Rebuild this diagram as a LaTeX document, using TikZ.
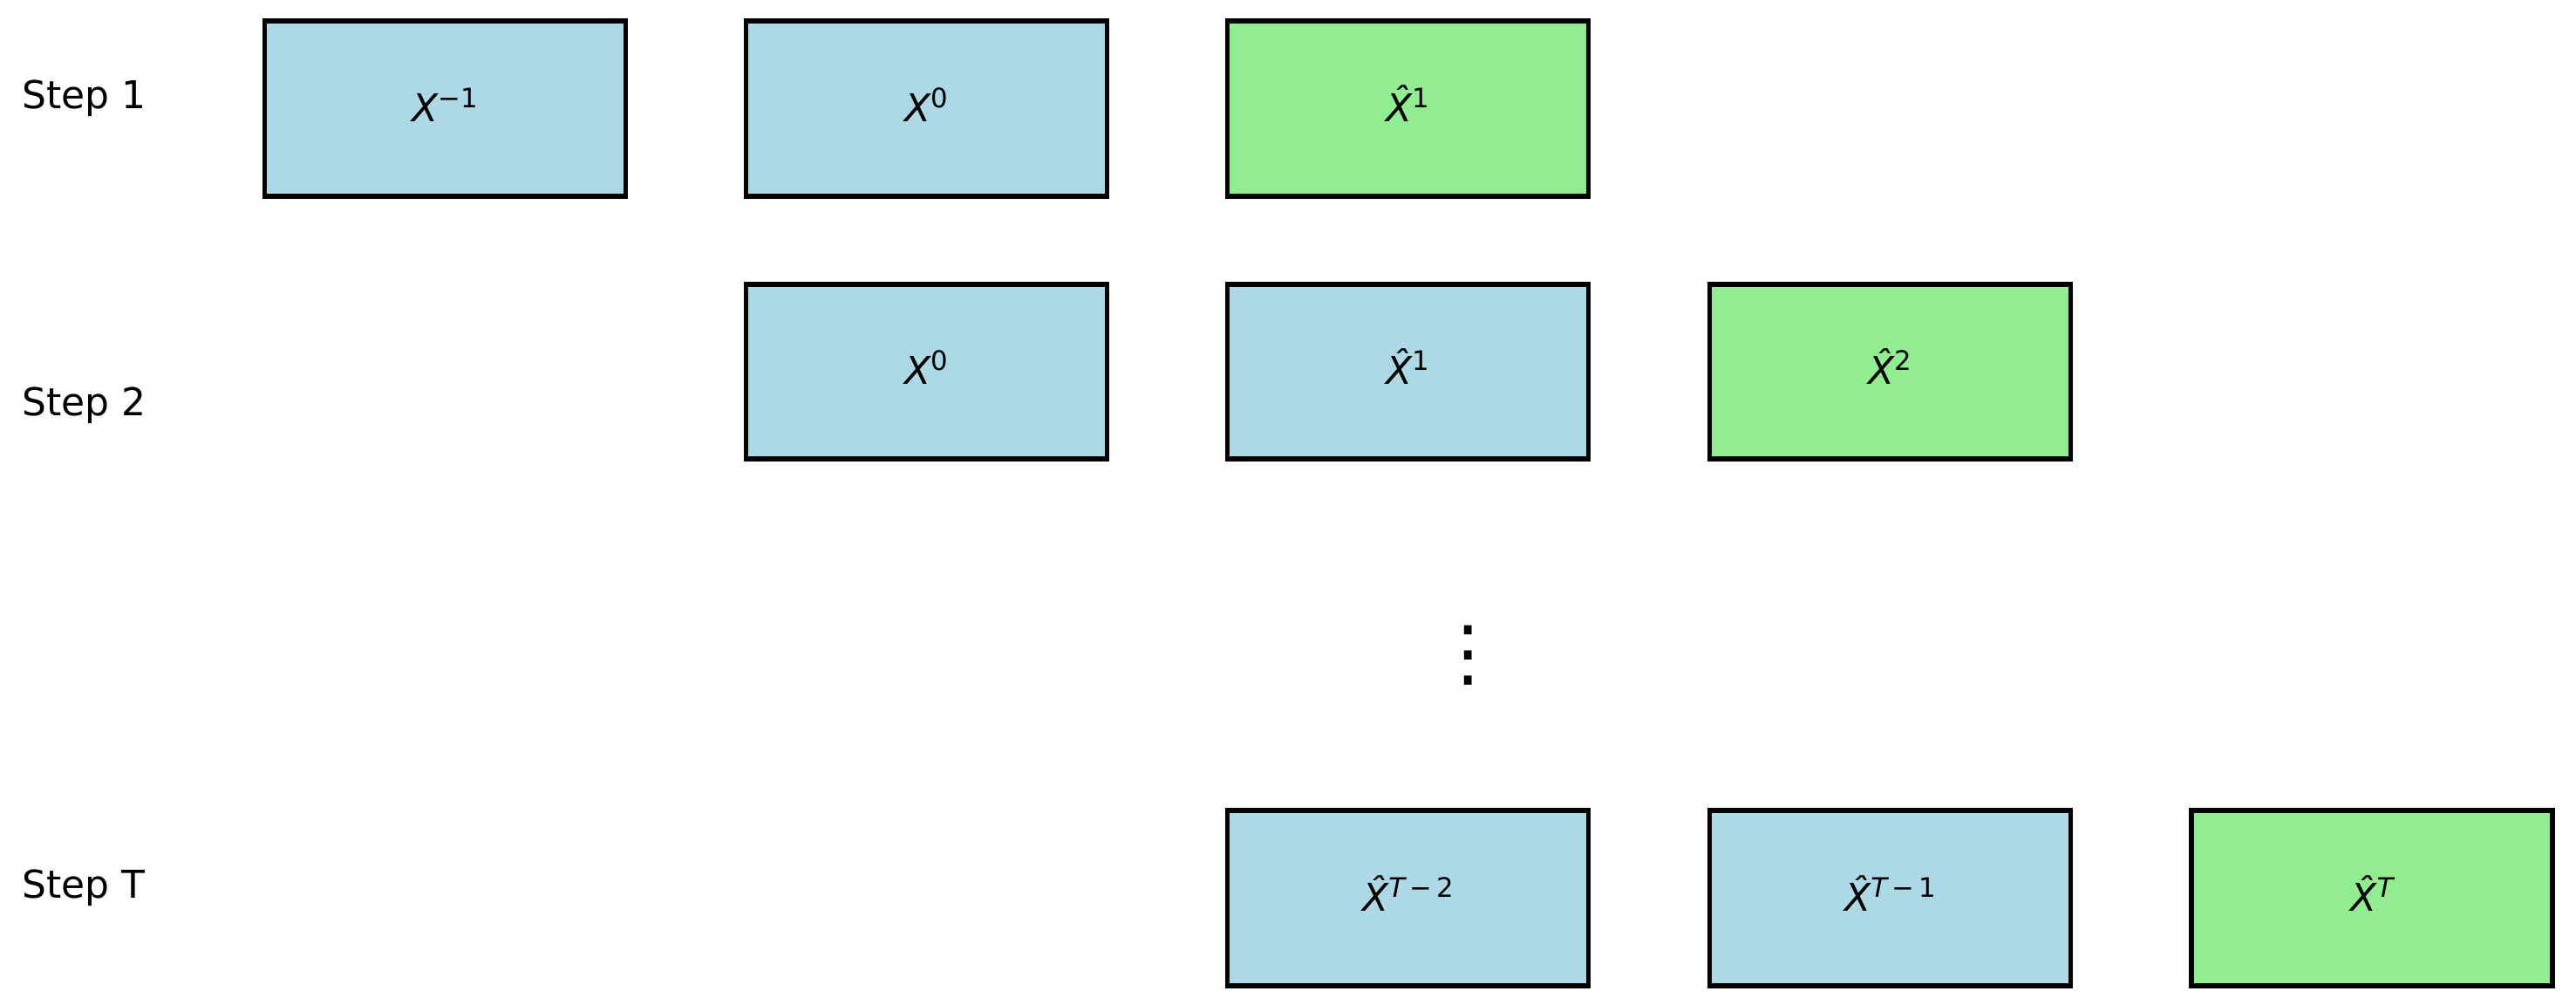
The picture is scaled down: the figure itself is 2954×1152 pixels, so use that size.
\documentclass[tikz,border=0pt]{standalone}
\usepackage{fontspec}
\setmainfont{DejaVu Sans}
\usetikzlibrary{positioning}

\definecolor{inpblue}{HTML}{ADD8E6}
\definecolor{predgreen}{HTML}{90EE90}

\newcommand{\sups}[1]{\raisebox{4.5pt}{\fontsize{8.75pt}{9pt}\selectfont #1}}
\newcommand{\Xs}[1]{{\itshape X}\sups{#1}}
\newcommand{\Xh}[1]{{\itshape\^{X}}\sups{#1}}

\begin{document}
\begin{tikzpicture}[
  x=0.01cm, y=-0.01cm,
  box/.style={rectangle, draw=black, line width=1.6pt, minimum width=4.135cm,
    minimum height=2.005cm, inner sep=0pt, text height=8.25pt, text depth=0pt,
    font=\fontsize{12.5pt}{15pt}\selectfont},
  inp/.style={box, fill=inpblue},
  pred/.style={box, fill=predgreen},
  lbl/.style={anchor=base west, inner sep=0pt, font=\fontsize{12.5pt}{15pt}\selectfont}
]
\useasboundingbox (0,0) rectangle (2954,1152);

% --- step labels ---
\node[lbl] (s1) at (25,125)  {Step 1};
\node[lbl] (s2) at (25,477)  {Step 2};
\node[lbl] (sT) at (25,1029) {Step T};

% --- step 1 ---
\node[inp]  (a1) at (510.5,124.5)  {\Xs{−1}};
\node[inp]  (a2) at (1062.5,124.5) {\Xs{0}};
\node[pred] (a3) at (1614.5,124.5) {\Xh{1}};

% --- step 2 ---
\node[inp]  (b2) at (1062.5,426) {\Xs{0}};
\node[inp]  (b3) at (1614.5,426) {\Xh{1}};
\node[pred] (b4) at (2167.5,426) {\Xh{2}};

% --- gap ---
\node[inner sep=0pt, font=\fontsize{24pt}{24pt}\selectfont] (dots) at (1684,751) {⋮};

% --- step T ---
\node[inp]  (c3) at (1614.5,1029.5) {\Xh{{\itshape T}\,−\,2}};
\node[inp]  (c4) at (2167.5,1029.5) {\Xh{{\itshape T}\,−\,1}};
\node[pred] (c5) at (2720,1029.5)   {\Xh{{\itshape T}}};

\end{tikzpicture}
\end{document}
